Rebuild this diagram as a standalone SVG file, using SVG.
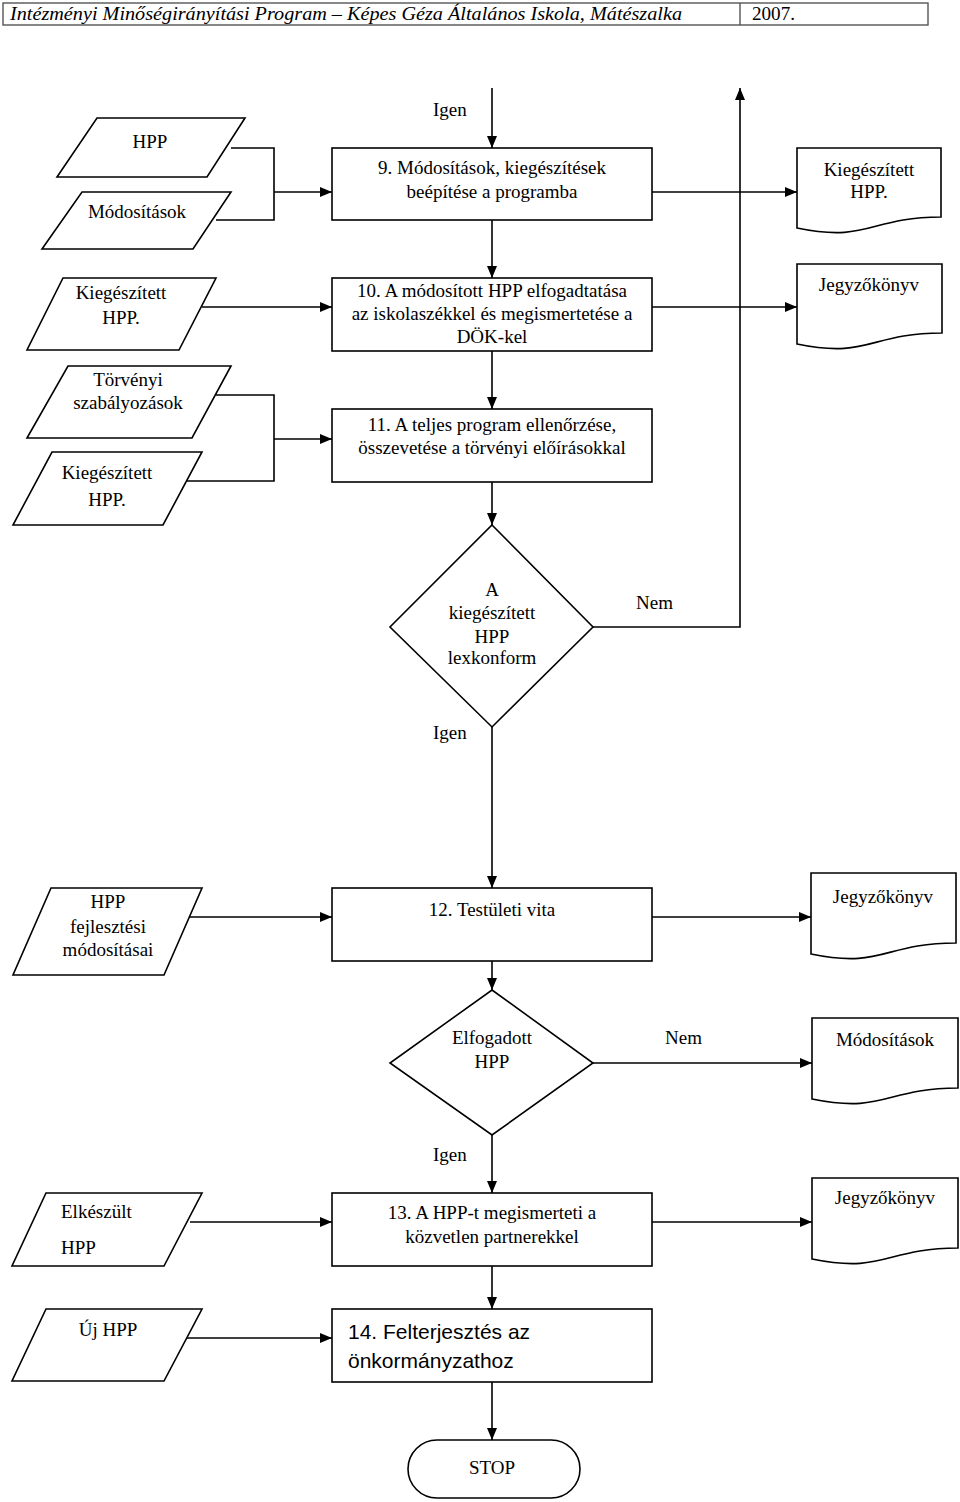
<svg xmlns="http://www.w3.org/2000/svg" width="960" height="1502" viewBox="0 0 960 1502">
<style>
.s{fill:#fff;stroke:#000;stroke-width:1.6}
.c{fill:none;stroke:#000;stroke-width:1.6}
text{font-family:"Liberation Serif","Times New Roman",serif;font-size:19px;fill:#000}
.m{text-anchor:middle}
.sans{font-family:"Liberation Sans",Arial,sans-serif;font-size:21px}
.hd{font-style:italic;font-size:19px}
</style>
<defs>
<marker id="ar" markerWidth="12" markerHeight="10" refX="12" refY="5" orient="auto" markerUnits="userSpaceOnUse">
<path d="M0,0 L12,5 L0,10 z" fill="#000"/>
</marker>
</defs>
<rect width="960" height="1502" fill="#fff"/>

<g id="header">
<rect x="3" y="3" width="925" height="22" fill="none" stroke="#555" stroke-width="1.4"/>
<line x1="740" y1="3" x2="740" y2="25" stroke="#555" stroke-width="1.4"/>
<text class="hd" x="10" y="20" textLength="672" lengthAdjust="spacingAndGlyphs">Intézményi Minőségirányítási Program – Képes Géza Általános Iskola, Mátészalka</text>
<text x="752" y="20" textLength="43" lengthAdjust="spacingAndGlyphs">2007.</text>
</g>

<g id="connectors">
<path class="c" d="M231,148 H274 V220 H216"/>
<path class="c" d="M274,192 H332" marker-end="url(#ar)"/>
<path class="c" d="M492,88 V148" marker-end="url(#ar)"/>
<path class="c" d="M652,192 H797" marker-end="url(#ar)"/>
<path class="c" d="M202,307 H332" marker-end="url(#ar)"/>
<path class="c" d="M492,220 V278" marker-end="url(#ar)"/>
<path class="c" d="M652,307 H797" marker-end="url(#ar)"/>
<path class="c" d="M492,351 V409" marker-end="url(#ar)"/>
<path class="c" d="M216,395 H274 V481 H186"/>
<path class="c" d="M274,439 H332" marker-end="url(#ar)"/>
<path class="c" d="M492,482 V525" marker-end="url(#ar)"/>
<path class="c" d="M593,627 H740 V88" marker-end="url(#ar)"/>
<path class="c" d="M492,727 V888" marker-end="url(#ar)"/>
<path class="c" d="M188,917 H332" marker-end="url(#ar)"/>
<path class="c" d="M652,917 H811" marker-end="url(#ar)"/>
<path class="c" d="M492,961 V990" marker-end="url(#ar)"/>
<path class="c" d="M593,1063 H812" marker-end="url(#ar)"/>
<path class="c" d="M492,1135 V1193" marker-end="url(#ar)"/>
<path class="c" d="M190,1222 H332" marker-end="url(#ar)"/>
<path class="c" d="M652,1222 H812" marker-end="url(#ar)"/>
<path class="c" d="M492,1266 V1309" marker-end="url(#ar)"/>
<path class="c" d="M187,1338 H332" marker-end="url(#ar)"/>
<path class="c" d="M492,1382 V1440" marker-end="url(#ar)"/>
<text x="433" y="116">Igen</text>
<text x="636" y="609">Nem</text>
<text x="433" y="739">Igen</text>
<text x="665" y="1044">Nem</text>
<text x="433" y="1161">Igen</text>
</g>

<g id="in-hpp">
<polygon class="s" points="97,118 245,118 207,177 57,177"/>
<text class="m" x="150" y="148">HPP</text>
</g>
<g id="in-modositasok">
<polygon class="s" points="82,192 231,192 193,249 42,249"/>
<text class="m" x="137" y="218">Módosítások</text>
</g>
<g id="step9">
<rect class="s" x="332" y="148" width="320" height="72"/>
<text class="m" x="492" y="174">9. Módosítások, kiegészítések</text>
<text class="m" x="492" y="198">beépítése a programba</text>
</g>
<g id="doc-kieg">
<path class="s" d="M797,148 H941 V217 C869,217 869,243 797,228 Z"/>
<text class="m" x="869" y="176">Kiegészített</text>
<text class="m" x="869" y="198">HPP.</text>
</g>

<g id="in-kieg1">
<polygon class="s" points="63,278 216,278 179,350 27,350"/>
<text class="m" x="121" y="299">Kiegészített</text>
<text class="m" x="121" y="324">HPP.</text>
</g>
<g id="step10">
<rect class="s" x="332" y="278" width="320" height="73"/>
<text class="m" x="492" y="297">10. A módosított HPP elfogadtatása</text>
<text class="m" x="492" y="320">az iskolaszékkel és megismertetése a</text>
<text class="m" x="492" y="343">DÖK-kel</text>
</g>
<g id="doc-jk1">
<path class="s" d="M797,264 H942 V333 C869,333 869,359 797,344 Z"/>
<text class="m" x="869" y="291">Jegyzőkönyv</text>
</g>

<g id="in-torvenyi">
<polygon class="s" points="68,366 231,366 192,438 27,438"/>
<text class="m" x="128" y="386">Törvényi</text>
<text class="m" x="128" y="409">szabályozások</text>
</g>
<g id="in-kieg2">
<polygon class="s" points="52,452 202,452 163,525 13,525"/>
<text class="m" x="107" y="479">Kiegészített</text>
<text class="m" x="107" y="506">HPP.</text>
</g>
<g id="step11">
<rect class="s" x="332" y="409" width="320" height="73"/>
<text class="m" x="492" y="431">11. A teljes program ellenőrzése,</text>
<text class="m" x="492" y="454">összevetése a törvényi előírásokkal</text>
</g>

<g id="dec-lexkonform">
<polygon class="s" points="492,525 593,627 492,727 390,627"/>
<text class="m" x="492" y="596">A</text>
<text class="m" x="492" y="619">kiegészített</text>
<text class="m" x="492" y="643">HPP</text>
<text class="m" x="492" y="664">lexkonform</text>
</g>

<g id="in-fejlesztesi">
<polygon class="s" points="51,888 202,888 164,975 13,975"/>
<text class="m" x="108" y="908">HPP</text>
<text class="m" x="108" y="933">fejlesztési</text>
<text class="m" x="108" y="956">módosításai</text>
</g>
<g id="step12">
<rect class="s" x="332" y="888" width="320" height="73"/>
<text class="m" x="492" y="916">12. Testületi vita</text>
</g>
<g id="doc-jk2">
<path class="s" d="M811,873 H956 V943 C883,943 883,969 811,954 Z"/>
<text class="m" x="883" y="903">Jegyzőkönyv</text>
</g>

<g id="dec-elfogadott">
<polygon class="s" points="492,990 593,1063 492,1135 390,1063"/>
<text class="m" x="492" y="1044">Elfogadott</text>
<text class="m" x="492" y="1068">HPP</text>
</g>
<g id="doc-modositasok">
<path class="s" d="M812,1018 H958 V1088 C885,1088 885,1114 812,1099 Z"/>
<text class="m" x="885" y="1046">Módosítások</text>
</g>

<g id="in-elkeszult">
<polygon class="s" points="46,1193 202,1193 164,1266 12,1266"/>
<text x="61" y="1218">Elkészült</text>
<text x="61" y="1254">HPP</text>
</g>
<g id="step13">
<rect class="s" x="332" y="1193" width="320" height="73"/>
<text class="m" x="492" y="1219">13. A HPP-t megismerteti a</text>
<text class="m" x="492" y="1243">közvetlen partnerekkel</text>
</g>
<g id="doc-jk3">
<path class="s" d="M812,1178 H958 V1248 C885,1248 885,1274 812,1259 Z"/>
<text class="m" x="885" y="1204">Jegyzőkönyv</text>
</g>

<g id="in-uj-hpp">
<polygon class="s" points="46,1309 202,1309 164,1381 12,1381"/>
<text class="m" x="108" y="1336">Új HPP</text>
</g>
<g id="step14">
<rect class="s" x="332" y="1309" width="320" height="73"/>
<text class="sans" x="348" y="1339">14. Felterjesztés az</text>
<text class="sans" x="348" y="1368">önkormányzathoz</text>
</g>

<g id="stop">
<rect class="s" x="408" y="1440" width="172" height="58" rx="29" ry="29"/>
<text class="m" x="492" y="1474">STOP</text>
</g>
</svg>
